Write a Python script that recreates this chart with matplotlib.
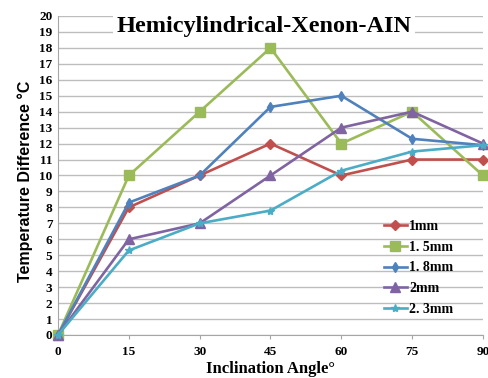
import matplotlib.pyplot as plt

angles = [0, 15, 30, 45, 60, 75, 90]
labels = ['1mm', '1. 5mm', '1. 8mm', '2mm', '2. 3mm']
d_1mm = [0, 8, 10, 12, 10, 11, 11]
d_15mm = [0, 10, 14, 18, 12, 14, 10]
d_18mm = [0, 8.3, 10, 14.3, 15, 12.3, 11.9]
d_2mm = [0, 6, 7, 10, 13, 14, 12]
d_23mm = [0, 5.3, 7, 7.8, 10.3, 11.5, 11.9]

series = [d_1mm, d_15mm, d_18mm, d_2mm, d_23mm]
colors = ['#C0504D', '#9BBB59', '#4F81BD', '#8064A2', '#4BACC6']
markers = ['D', 's', 'd', '^', '*']
msizes = [5, 7, 5, 7, 6]

serif = ['Liberation Serif', 'DejaVu Serif']
sans = ['Liberation Sans', 'DejaVu Sans']

fig = plt.figure(figsize=(4.89, 3.78), dpi=100)
ax = fig.add_axes([0.1186, 0.1138, 0.8691, 0.8439])

for ys, lab, c, m, ms in zip(series, labels, colors, markers, msizes):
    ax.plot(angles, ys, color=c, marker=m, markersize=ms, linewidth=1.9,
            label=lab, clip_on=False, zorder=3)

ax.set_xlim(0, 90)
ax.set_ylim(0, 20)
ax.set_xticks(angles)
ax.set_yticks(range(0, 21))
ax.grid(axis='y', color='#BDBDBD', linewidth=1.0)
ax.set_axisbelow(True)
for s in ('top', 'right'):
    ax.spines[s].set_visible(False)
for s in ('left', 'bottom'):
    ax.spines[s].set_color('#A6A6A6')
ax.tick_params(axis='y', length=0, pad=4)
ax.tick_params(axis='x', length=3, color='#A6A6A6', pad=5)
for t in ax.get_xticklabels() + ax.get_yticklabels():
    t.set_family(serif)
    t.set_fontweight('bold')
    t.set_fontsize(9.5)

# title sits inside the plot on a white patch over the top gridlines
ax.text(0.485, 0.968, 'Hemicylindrical-Xenon-AIN', transform=ax.transAxes,
        ha='center', va='center', family=serif, fontweight='bold',
        fontsize=17.5,
        bbox=dict(facecolor='white', edgecolor='none', pad=2.5), zorder=5)

ax.set_xlabel('Inclination Angle°', family=serif, fontweight='bold',
              fontsize=12, labelpad=2)

fig.text(0.051, 0.521, 'Temperature Difference °C', rotation=90,
         ha='center', va='center', family=sans, fontweight='bold',
         fontsize=11.5)

leg = ax.legend(loc='lower left', bbox_to_anchor=(0.745, 0.03), frameon=False,
                prop={'family': serif, 'weight': 'bold', 'size': 10},
                handlelength=1.6, labelspacing=0.55, borderpad=0.2,
                handletextpad=0.2)

fig.savefig('out.png', dpi=100)
